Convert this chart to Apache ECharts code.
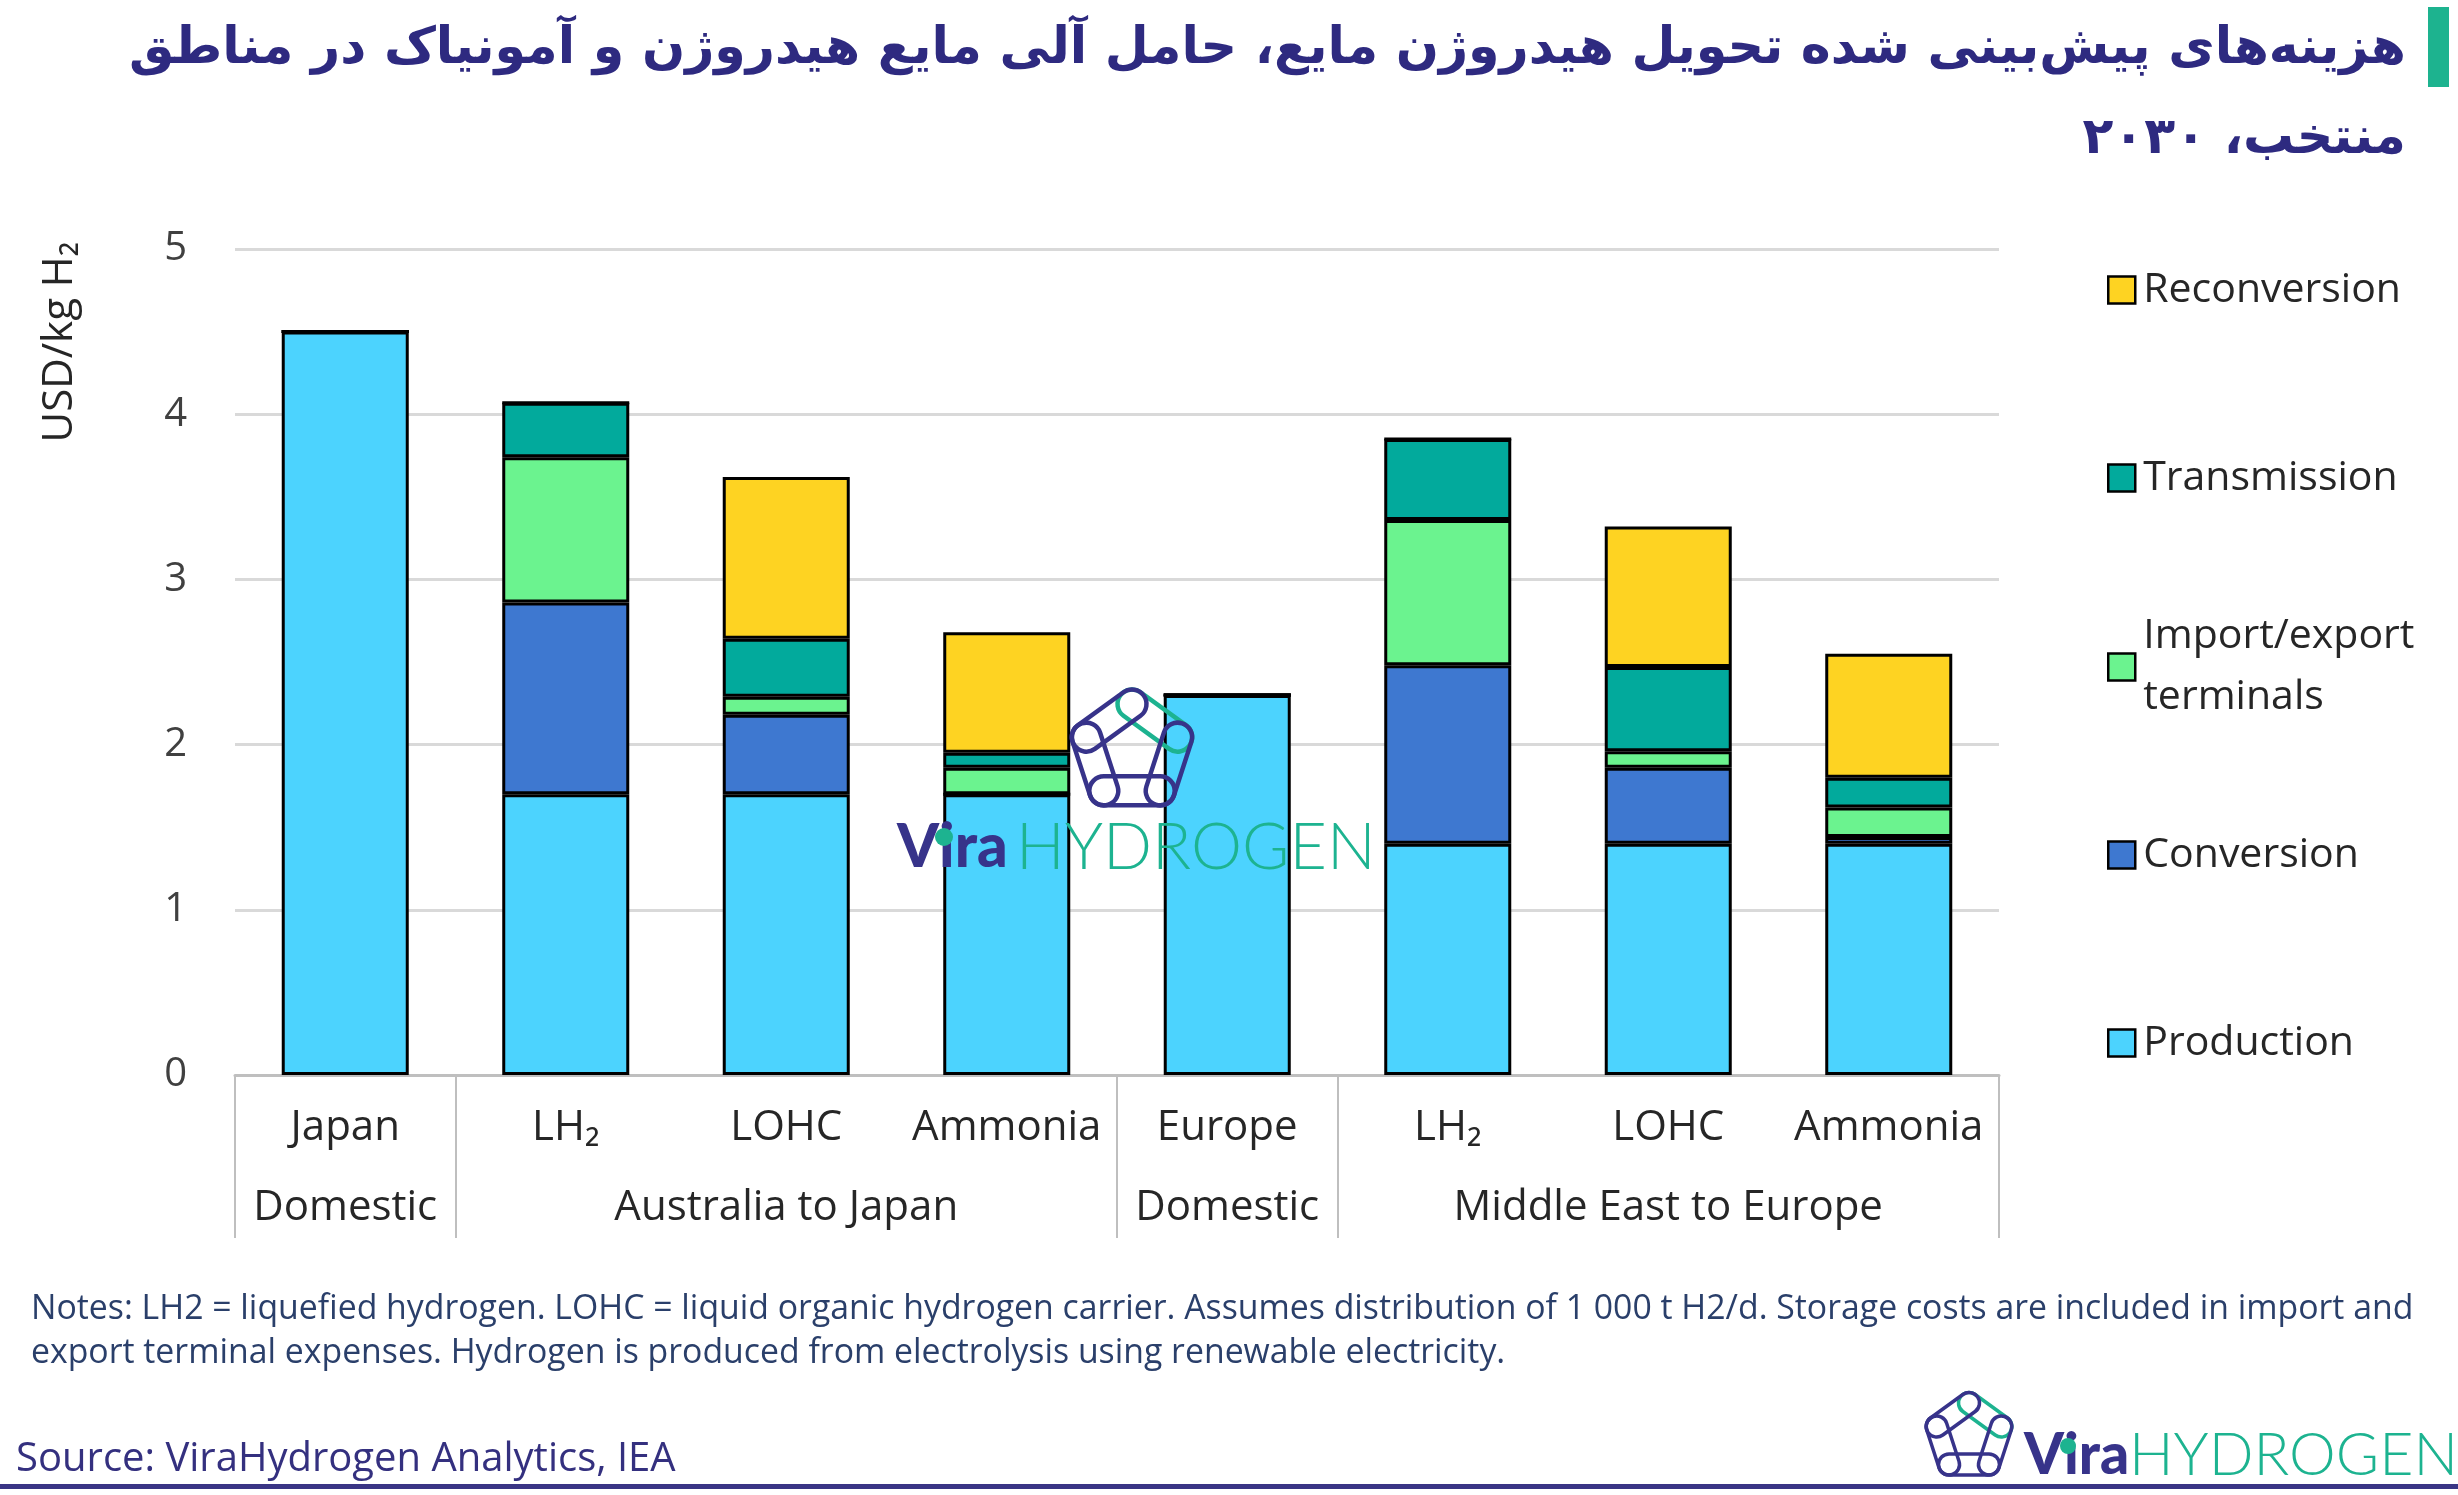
<!DOCTYPE html>
<html>
<head>
<meta charset="utf-8">
<script src="https://cdn.jsdelivr.net/npm/echarts@6/dist/echarts.min.js"></script>
<style>
html,body{margin:0;padding:0;background:#fff;}
#chart{width:2458px;height:1495px;}
</style>
</head>
<body>
<div id="chart"></div>
<script>
// ---- data ----
const categories = ['Japan', 'LH₂', 'LOHC', 'Ammonia', 'Europe', 'LH₂', 'LOHC', 'Ammonia'];
const groupLabels = ['Domestic', '', 'Australia to Japan', '', 'Domestic', '', 'Middle East to Europe', ''];
const groupBoundaries = [0, 1, 4, 5];
const yTicks = [0, 1, 2, 3, 4, 5];

const production   = [4.50, 1.70, 1.70, 1.70, 2.30, 1.40, 1.40, 1.40];
const conversion   = [0,    1.16, 0.48, 0,    0,    1.08, 0.46, 0.04];
const importExport = [0,    0.88, 0.11, 0.16, 0,    0.88, 0.10, 0.18];
const transmission = [0,    0.33, 0.35, 0.09, 0,    0.49, 0.51, 0.18];
const reconversion = [0,    0,    0.98, 0.73, 0,    0,    0.85, 0.75];

const seriesNames = ['Production', 'Conversion', 'Import/export terminals', 'Transmission', 'Reconversion'];
const seriesValues = [production, conversion, importExport, transmission, reconversion];
const seriesColors = ['#4cd3fe', '#3e78d0', '#6bf38f', '#02aa9c', '#fed322'];

const titleLine1 = 'هزینه‌های پیش‌بینی شده تحویل هیدروژن مایع، حامل آلی مایع هیدروژن و آمونیاک در مناطق';
const titleLine2 = 'منتخب، ۲۰۳۰';
const yAxisName = 'USD/kg H₂';
const notes1 = 'Notes: LH2 = liquefied hydrogen. LOHC = liquid organic hydrogen carrier. Assumes distribution of 1 000 t H2/d. Storage costs are included in import and';
const notes2 = 'export terminal expenses. Hydrogen is produced from electrolysis using renewable electricity.';
const sourceText = 'Source: ViraHydrogen Analytics, IEA';

// ---- styling helpers ----
const NAVY = '#37338a';
const TEAL = '#1db390';
const FONT = '"Open Sans", "Noto Sans", sans-serif';

function chainIcon(cx, cy, Rv, th, lw) {
  const children = [];
  for (let k = 0; k < 5; k++) {
    const a1 = (-90 + 72 * k) * Math.PI / 180;
    const a2 = (-90 + 72 * (k + 1)) * Math.PI / 180;
    const x1 = cx + Rv * Math.cos(a1), y1 = cy + Rv * Math.sin(a1);
    const x2 = cx + Rv * Math.cos(a2), y2 = cy + Rv * Math.sin(a2);
    const mx = (x1 + x2) / 2, my = (y1 + y2) / 2;
    const len = Math.hypot(x2 - x1, y2 - y1);
    const ang = Math.atan2(y2 - y1, x2 - x1);
    children.push({
      type: 'rect', x: mx, y: my, rotation: -ang, z: 100,
      shape: { x: -(len + th) / 2, y: -th / 2, width: len + th, height: th, r: th / 2 },
      style: { fill: 'none', stroke: k === 0 ? TEAL : NAVY, lineWidth: lw }
    });
  }
  return children;
}

function logo(cx, cy, Rv, th, lw, viraX, hydX, textY, fs, hfs, dotX, dotY, dotR) {
  return [].concat(chainIcon(cx, cy, Rv, th, lw), [
    { type: 'text', x: viraX, y: textY, z: 100, style: { text: 'Vira', font: '900 ' + fs + 'px Lato, sans-serif', fill: NAVY, align: 'left', verticalAlign: 'middle' } },
    { type: 'circle', z: 101, shape: { cx: dotX, cy: dotY, r: dotR }, style: { fill: TEAL } },
    { type: 'text', x: hydX, y: textY, z: 100, style: { text: 'HYDROGEN', font: '300 ' + hfs + 'px Lato, sans-serif', fill: TEAL, align: 'left', verticalAlign: 'middle' } }
  ]);
}

const chart = echarts.init(document.getElementById('chart'), null, { renderer: 'canvas' });

const series = seriesNames.map((name, i) => ({
  name: name,
  type: 'bar',
  stack: 'total',
  data: seriesValues[i],
  barWidth: '57.6%',
  itemStyle: { color: seriesColors[i], borderColor: '#000', borderWidth: 3 },
  emphasis: { disabled: true }
}));

function legendItem(name, centerY, opts) {
  const lh = opts && opts.lineHeight ? opts.lineHeight : 48;
  const lines = opts && opts.lines ? opts.lines : 1;
  const padTop = lines > 1 ? lh * (lines - 1) : 0;
  const boxH = lh * lines + padTop;
  return {
    data: [name],
    orient: 'vertical',
    left: 2102,
    top: centerY - boxH / 2,
    itemWidth: 27,
    itemHeight: 27,
    icon: 'rect',
    selectedMode: false,
    itemStyle: { borderColor: '#000', borderWidth: 2.5 },
    formatter: opts && opts.formatter ? opts.formatter : undefined,
    textStyle: {
      fontFamily: FONT, fontSize: 41, color: '#262626', lineHeight: lh,
      padding: [padTop, 0, 0, 3]
    }
  };
}

const option = {
  backgroundColor: '#ffffff',
  animation: false,
  grid: { left: 235, right: 459, top: 249, bottom: 420, containLabel: false },
  legend: [
    legendItem('Reconversion', 285),
    legendItem('Transmission', 473),
    legendItem('Import/export terminals', 662, { lines: 2, lineHeight: 61, formatter: () => 'Import/export\nterminals' }),
    legendItem('Conversion', 850),
    legendItem('Production', 1038)
  ],
  xAxis: [
    {
      type: 'category',
      data: categories,
      position: 'bottom',
      axisLine: { show: true, lineStyle: { color: '#bfbfbf', width: 3 } },
      axisTick: {
        show: true,
        interval: (i) => groupBoundaries.indexOf(i) >= 0,
        length: 163,
        lineStyle: { color: '#bfbfbf', width: 2 }
      },
      axisLabel: { interval: 0, fontFamily: FONT, fontSize: 42, color: '#262626', margin: 28, lineHeight: 50 },
      splitLine: { show: false }
    },
    {
      type: 'category',
      data: groupLabels,
      position: 'bottom',
      axisLine: { show: false },
      axisTick: { show: false },
      axisLabel: { interval: 0, fontFamily: FONT, fontSize: 42, color: '#262626', margin: 108, lineHeight: 50 },
      splitLine: { show: false }
    }
  ],
  yAxis: {
    type: 'value',
    min: yTicks[0],
    max: yTicks[yTicks.length - 1],
    interval: 1,
    axisLine: { show: false },
    axisTick: { show: false },
    axisLabel: { fontFamily: FONT, fontSize: 40, color: '#404040', margin: 48 },
    splitLine: { lineStyle: { color: '#d9d9d9', width: 3 } }
  },
  series: series,
  graphic: [
    { type: 'text', x: 2406, y: 50, z: 10, style: { text: titleLine1, font: 'bold 50.7px "DejaVu Sans", sans-serif', fill: '#2e2a80', align: 'right', verticalAlign: 'middle' } },
    { type: 'text', x: 2406, y: 140, z: 10, style: { text: titleLine2, font: 'bold 50.7px "DejaVu Sans", sans-serif', fill: '#2e2a80', align: 'right', verticalAlign: 'middle' } },
    { type: 'rect', x: 2428, y: 7, shape: { width: 21, height: 80 }, style: { fill: '#1db38f' } },
    { type: 'text', x: 60, y: 342, rotation: Math.PI / 2, style: { text: yAxisName, font: '42px ' + FONT, fill: '#262626', align: 'center', verticalAlign: 'middle' } },
    { type: 'text', x: 31, y: 1309, style: { text: notes1, font: '33.8px ' + FONT, fill: '#2a3f6a', align: 'left', verticalAlign: 'middle' } },
    { type: 'text', x: 31, y: 1353, style: { text: notes2, font: '33.8px ' + FONT, fill: '#2a3f6a', align: 'left', verticalAlign: 'middle' } },
    { type: 'text', x: 16, y: 1460, style: { text: sourceText, font: '40px ' + FONT, fill: '#34307f', align: 'left', verticalAlign: 'middle' } },
    { type: 'rect', x: 0, y: 1484, shape: { width: 2458, height: 5 }, style: { fill: '#3a3585' } },
    { type: 'group', children: logo(1132, 752, 48, 29, 4.5, 897, 1016, 848, 60, 64.5, 944, 837, 9) },
    { type: 'group', children: logo(1969, 1437, 34, 21, 3.5, 2024, 2129, 1456, 57, 59, 2068, 1446, 8) }
  ]
};

chart.setOption(option);
</script>
</body>
</html>
